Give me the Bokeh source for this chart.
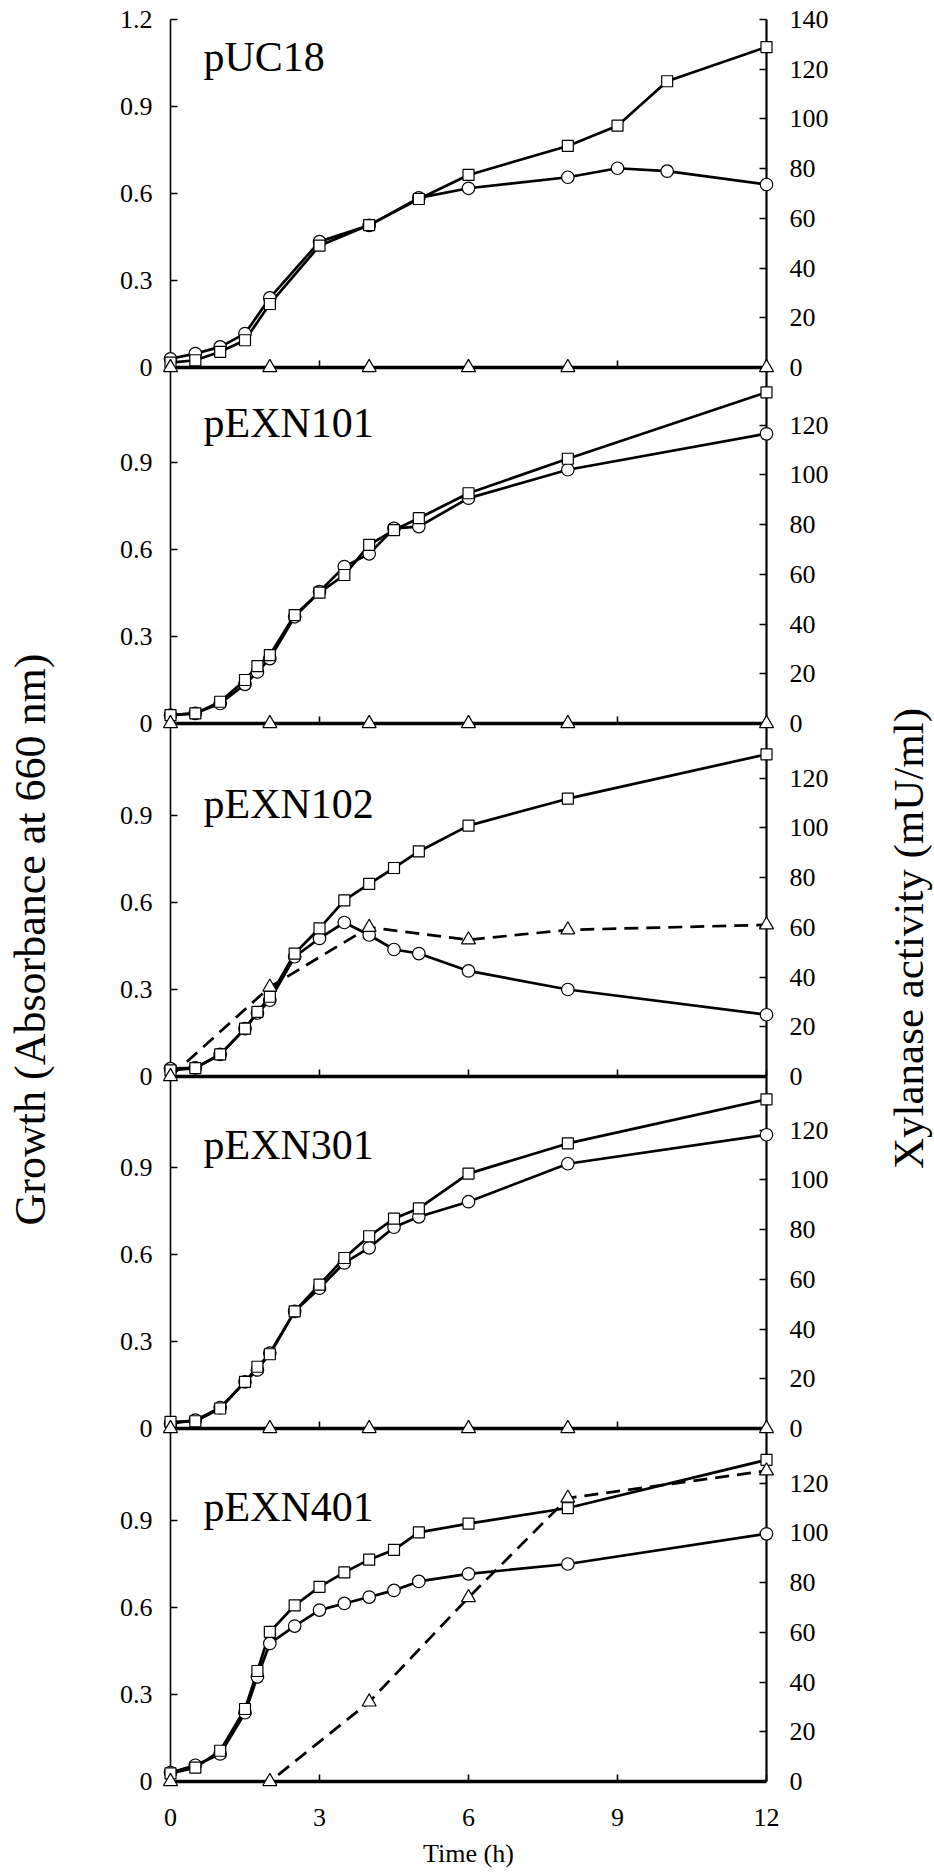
import math
from bokeh.plotting import figure
from bokeh.models import Range1d, LinearAxis, FixedTicker, Label, PrintfTickFormatter
from bokeh.embed import file_html
from bokeh.resources import INLINE

# ---------------- data ----------------
panel_names = ["pUC18", "pEXN101", "pEXN102", "pEXN301", "pEXN401"]

time_pUC18 = [0, 0.5, 1, 1.5, 2, 3, 4, 5, 6, 8, 9, 10, 12]
time_pEXN = [0, 0.5, 1, 1.5, 1.75, 2, 2.5, 3, 3.5, 4, 4.5, 5, 6, 8, 12]
time_xylanase = [0, 2, 4, 6, 8, 12]

# circles (growth, A660)
circle_pUC18 = [0.03, 0.048, 0.071, 0.117, 0.24, 0.434, 0.49, 0.585, 0.618, 0.656, 0.687, 0.677, 0.631]
circle_pEXN101 = [0.029, 0.035, 0.069, 0.135, 0.178, 0.224, 0.368, 0.455, 0.541, 0.585, 0.673, 0.679, 0.777, 0.875, 0.999]
circle_pEXN102 = [0.027, 0.03, 0.076, 0.165, 0.219, 0.263, 0.413, 0.476, 0.531, 0.488, 0.438, 0.424, 0.364, 0.30, 0.213]
circle_pEXN301 = [0.017, 0.029, 0.072, 0.161, 0.202, 0.26, 0.404, 0.484, 0.571, 0.623, 0.694, 0.73, 0.782, 0.913, 1.013]
circle_pEXN401 = [0.031, 0.056, 0.095, 0.237, 0.361, 0.476, 0.536, 0.591, 0.614, 0.636, 0.659, 0.69, 0.716, 0.75, 0.854]

# squares (growth, A660)
square_pUC18 = [0.017, 0.025, 0.054, 0.094, 0.219, 0.42, 0.491, 0.581, 0.664, 0.764, 0.834, 0.987, 1.105]
square_pEXN101 = [0.029, 0.035, 0.075, 0.15, 0.198, 0.236, 0.374, 0.451, 0.512, 0.616, 0.667, 0.708, 0.794, 0.913, 1.142]
square_pEXN102 = [0.021, 0.029, 0.076, 0.165, 0.223, 0.275, 0.424, 0.511, 0.607, 0.664, 0.719, 0.776, 0.865, 0.958, 1.111]
square_pEXN301 = [0.023, 0.025, 0.069, 0.161, 0.213, 0.256, 0.404, 0.496, 0.588, 0.663, 0.724, 0.759, 0.879, 0.983, 1.135]
square_pEXN401 = [0.028, 0.048, 0.106, 0.25, 0.381, 0.516, 0.607, 0.671, 0.721, 0.765, 0.799, 0.859, 0.889, 0.943, 1.109]

# triangles (xylanase activity, mU/ml)
xylanase_pUC18 = [0, 0, 0, 0, 0, 0]
xylanase_pEXN101 = [0, 0, 0, 0, 0, 0]
xylanase_pEXN102 = [0, 36, 60, 55, 59, 61]
xylanase_pEXN301 = [0, 0, 0, 0, 0, 0]
xylanase_pEXN401 = [0, 0, 32, 74, 114, 125]

growth_ticks_first = [0, 0.3, 0.6, 0.9, 1.2]
growth_ticks = [0, 0.3, 0.6, 0.9]
xylanase_ticks_first = [0, 20, 40, 60, 80, 100, 120, 140]
xylanase_ticks = [0, 20, 40, 60, 80, 100, 120]
time_ticks = [0, 3, 6, 9, 12]

circles = [circle_pUC18, circle_pEXN101, circle_pEXN102, circle_pEXN301, circle_pEXN401]
squares = [square_pUC18, square_pEXN101, square_pEXN102, square_pEXN301, square_pEXN401]
xylanases = [xylanase_pUC18, xylanase_pEXN101, xylanase_pEXN102, xylanase_pEXN301, xylanase_pEXN401]
times = [time_pUC18, time_pEXN, time_pEXN, time_pEXN, time_pEXN]

# ---------------- layout ----------------
W, H = 934, 1874
X0_PX, X12_PX = 170, 766
ZERO_PX = [367, 723, 1076, 1428, 1781]
PX_PER_UNIT = 290.0
FIRST_TOP = 1.2
XYL_PER_GROWTH = 140 / 1.2
LABEL_Y = [1.07, 1.035, 0.94, 0.976, 0.948]
FONT = "Liberation Serif"

ppu_x = (X12_PX - X0_PX) / 12.0
x_start = -X0_PX / ppu_x
x_end = 12 + (W - X12_PX) / ppu_x

p = figure(width=W, height=H, x_range=Range1d(x_start, x_end), y_range=Range1d(0, H),
           x_axis_location=None, y_axis_location=None, toolbar_location=None,
           output_backend="svg", min_border=0, min_border_left=0, min_border_right=0,
           min_border_top=0, min_border_bottom=0, outline_line_color=None,
           background_fill_color="white", border_fill_color="white")
p.grid.visible = False

extra = {}
for k in range(5):
    z = ZERO_PX[k]
    g0 = -(H - z) / PX_PER_UNIT
    g1 = z / PX_PER_UNIT
    extra[f"g{k}"] = Range1d(g0, g1)
    extra[f"x{k}"] = Range1d(g0 * XYL_PER_GROWTH, g1 * XYL_PER_GROWTH)
p.extra_y_ranges = extra


def style_axis(ax, width):
    ax.axis_line_color = "black"
    ax.axis_line_width = width
    ax.major_tick_line_color = "black"
    ax.major_tick_line_width = 1.6
    ax.major_tick_in = 7
    ax.major_tick_out = 0
    ax.minor_tick_line_color = None
    ax.major_label_text_font = FONT
    ax.major_label_text_font_size = "26px"
    ax.major_label_text_color = "black"


for k in range(5):
    g = f"g{k}"
    xr = f"x{k}"
    if k == 0:
        top = FIRST_TOP
    else:
        top = (ZERO_PX[k] - ZERO_PX[k - 1]) / PX_PER_UNIT
    t = times[k]

    # lines
    p.line(t, circles[k], y_range_name=g, line_color="black", line_width=2.7)
    p.line(t, squares[k], y_range_name=g, line_color="black", line_width=2.7)
    p.line(time_xylanase, xylanases[k], y_range_name=xr, line_color="black",
           line_width=2.7, line_dash="14 8")

    # markers
    p.scatter(t, circles[k], y_range_name=g, marker="circle", size=12.5,
              fill_color="white", line_color="black", line_width=1.2, level="overlay")
    p.scatter(t, squares[k], y_range_name=g, marker="square", size=11,
              fill_color="white", line_color="black", line_width=1.2, level="overlay")
    p.scatter(time_xylanase, xylanases[k], y_range_name=xr, marker="triangle", size=14,
              fill_color="white", line_color="black", line_width=1.2, level="overlay")

    # left axis (growth)
    la = LinearAxis(y_range_name=g, fixed_location=0, bounds=(0, top),
                    ticker=FixedTicker(ticks=growth_ticks_first if k == 0 else growth_ticks),
                    formatter=PrintfTickFormatter(format="%g"))
    style_axis(la, 1.6)
    la.major_label_standoff = 18
    p.add_layout(la, "left")

    # right axis (xylanase)
    ra = LinearAxis(y_range_name=xr, fixed_location=12, bounds=(0, top * XYL_PER_GROWTH),
                    ticker=FixedTicker(ticks=xylanase_ticks_first if k == 0 else xylanase_ticks))
    style_axis(ra, 2.2)
    ra.major_label_standoff = 23
    p.add_layout(ra, "right")

    # bottom axis (time)
    ba = LinearAxis(y_range_name=g, fixed_location=0, bounds=(0, 12),
                    ticker=FixedTicker(ticks=time_ticks))
    style_axis(ba, 3.4)
    if k < 4:
        ba.major_label_text_color = None
    else:
        ba.major_label_standoff = 27
        ba.axis_label = "Time (h)"
        ba.axis_label_text_font = FONT
        ba.axis_label_text_font_size = "26px"
        ba.axis_label_text_font_style = "normal"
        ba.axis_label_text_color = "black"
        ba.axis_label_standoff = 10
    p.add_layout(ba, "below")

    # panel name
    p.add_layout(Label(x=0, y=LABEL_Y[k], y_range_name=g, x_offset=33, text=panel_names[k],
                       text_font=FONT, text_font_size="42px", text_color="black",
                       text_baseline="alphabetic", text_align="left"))

p.add_layout(Label(x=30, y=H - 939, x_units="screen", y_units="screen",
                   text="Growth (Absorbance at 660 nm)", angle=math.pi / 2,
                   text_align="center", text_baseline="middle", text_font=FONT,
                   text_font_size="44px", text_color="black"))
p.add_layout(Label(x=908, y=H - 938, x_units="screen", y_units="screen",
                   text="Xylanase activity (mU/ml)", angle=math.pi / 2,
                   text_align="center", text_baseline="middle", text_font=FONT,
                   text_font_size="43px", text_color="black"))

open("out.html", "w").write(file_html(p, INLINE))
